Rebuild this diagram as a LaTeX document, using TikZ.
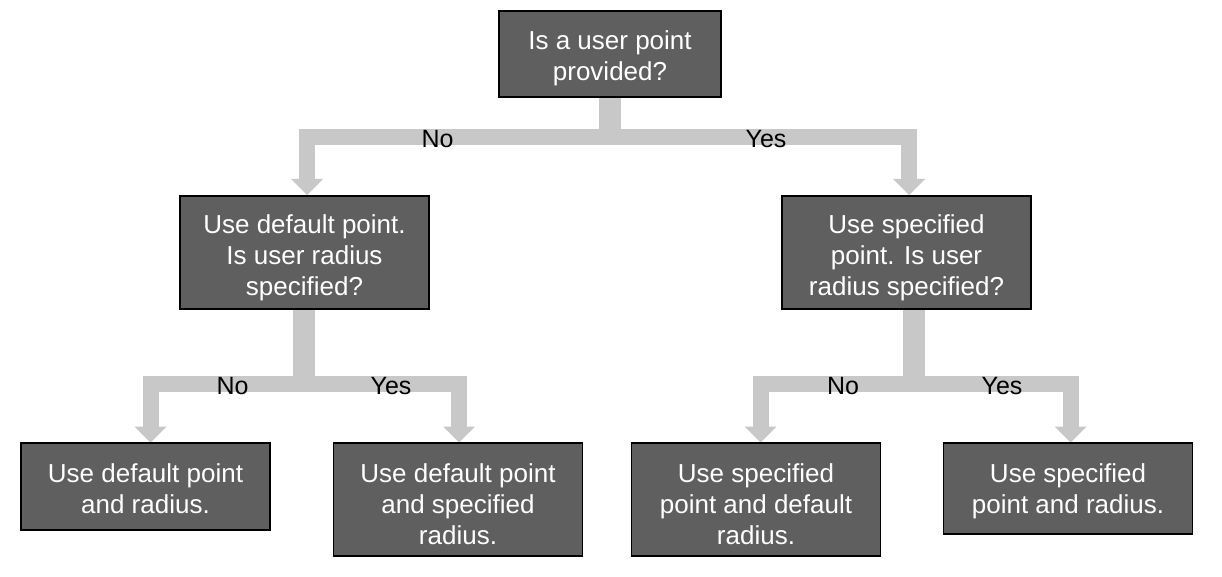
\documentclass[tikz,border=0pt]{standalone}
\usepackage{fontspec}
\setmainfont{Liberation Sans}
\usetikzlibrary{backgrounds}
\definecolor{boxgray}{RGB}{95,95,95}
\definecolor{arrgray}{RGB}{200,200,200}
\newcommand\firstln{\rule{0pt}{30pt}}
\newcommand\lastln[1][7]{\rule[-#1pt]{0pt}{#1pt}}
\newcommand\arrhead[1]{\fill[head] (#1) -- ++(-16,-16) -- ++(32,0) -- cycle;}
\begin{document}
\begin{tikzpicture}[x=1pt,y=-1pt,
  box/.style={draw=black, line width=1.2pt, fill=boxgray, text=white, align=center,
    inner sep=0pt, font=\fontsize{26}{31}\selectfont},
  lbl/.style={font=\fontsize{25}{30}\selectfont, anchor=base, text=black, inner sep=0pt},
  shaft/.style={draw=arrgray, line width=16pt},
  stemln/.style={draw=arrgray, line width=22pt},
  head/.style={fill=arrgray}]
\useasboundingbox (0,0) rectangle (1222,577);

% boxes
\node[box, minimum width=222pt, minimum height=86pt] (top) at (610,54)
  {\firstln Is a user point\\ provided?\lastln};
\node[box, minimum width=249pt, minimum height=113pt] (midL) at (304.5,252.5)
  {\firstln Use default point.\\ Is user radius\\ specified?\lastln[3]};
\node[box, minimum width=249pt, minimum height=113pt] (midR) at (906.5,252.5)
  {\firstln Use specified\\ point. Is user\\ radius specified?\lastln[3]};
\node[box, minimum width=249pt, minimum height=87pt] (b1) at (145.5,486.5)
  {\firstln Use default point\\ and radius.\lastln};
\node[box, minimum width=249pt, minimum height=113pt] (b2) at (458,499.5)
  {\firstln Use default point\\ and specified\\ radius.\lastln[3]};
\node[box, minimum width=249pt, minimum height=113pt] (b3) at (756,499.5)
  {\firstln Use specified\\ point and default\\ radius.\lastln[3]};
\node[box, minimum width=249pt, minimum height=91pt] (b4) at (1068,488.5)
  {\firstln Use specified\\ point and radius.\lastln[12]};

% labels
\node[lbl] (lno0) at (437.5,148) {No};
\node[lbl] (lyes0) at (766,148) {Yes};
\node[lbl] (lno1) at (232.5,394) {No};
\node[lbl] (lyes1) at (391,394) {Yes};
\node[lbl] (lno2) at (843,394) {No};
\node[lbl] (lyes2) at (1002,394) {Yes};

% junction and tip coordinates
\coordinate (s0) at (610,145);
\coordinate (j0) at (610,137);
\coordinate (a1) at (307,181);   \coordinate (h1) at (307,195);
\coordinate (a2) at (909,181);   \coordinate (h2) at (909,195);
\coordinate (s1) at (303.5,392);
\coordinate (j1) at (303.5,384);
\coordinate (a3) at (150.5,429); \coordinate (h3) at (150.5,442.5);
\coordinate (a4) at (459,429);   \coordinate (h4) at (459,442.5);
\coordinate (s2) at (914,392);
\coordinate (j2) at (914,384);
\coordinate (a5) at (760.5,429); \coordinate (h5) at (760.5,442.5);
\coordinate (a6) at (1070.5,429);\coordinate (h6) at (1070.5,442.5);

\begin{scope}[on background layer]
\fill[white] (0,0) rectangle (1222,577);
\draw[stemln] (top.south) -- (s0);
\draw[shaft] (j0) -| (a1);
\draw[shaft] (j0) -| (a2);
\arrhead{h1}\arrhead{h2}
\draw[stemln] (midL.south -| s1) -- (s1);
\draw[shaft] (j1) -| (a3);
\draw[shaft] (j1) -| (a4);
\arrhead{h3}\arrhead{h4}
\draw[stemln] (midR.south -| s2) -- (s2);
\draw[shaft] (j2) -| (a5);
\draw[shaft] (j2) -| (a6);
\arrhead{h5}\arrhead{h6}
\end{scope}
\end{tikzpicture}
\end{document}
